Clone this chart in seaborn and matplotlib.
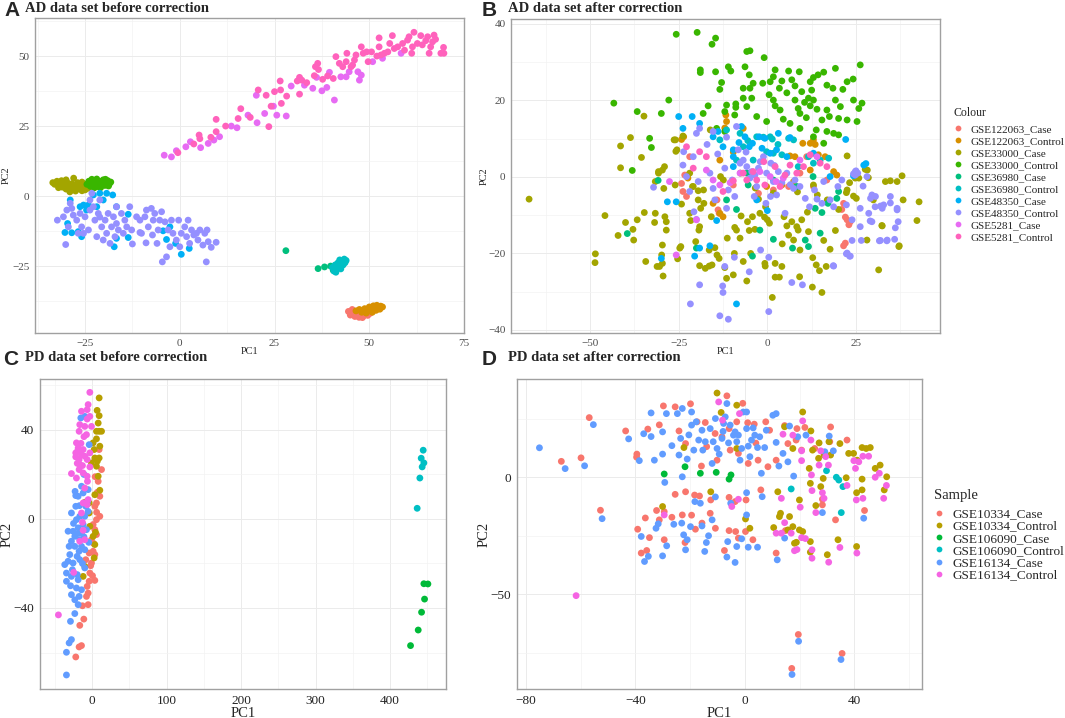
import pandas as pd
import numpy as np
import matplotlib
matplotlib.use("Agg")
import matplotlib.pyplot as plt
import seaborn as sns
from matplotlib.ticker import AutoMinorLocator

# ---------------- panel A : AD data set before correction ----------------
a_122063_case = [(44.5, -41.2), (45.0, -42.5), (45.6, -41.8), (46.2, -43.0), (46.8, -42.2),
                 (47.3, -43.3), (47.9, -42.0), (48.5, -42.8), (49.1, -41.5), (49.6, -42.6),
                 (50.2, -41.9), (45.5, -40.5), (47.0, -41.0), (48.2, -43.4)]
a_122063_control = [(46.5, -41.0), (47.4, -40.5), (48.0, -41.5), (48.8, -40.2), (49.5, -40.9),
                    (50.0, -39.6), (50.6, -40.7), (51.1, -39.2), (51.6, -40.2), (52.0, -39.0),
                    (52.5, -39.8), (53.0, -39.3), (53.5, -39.6), (50.8, -41.5), (49.2, -41.8),
                    (51.8, -40.8), (52.8, -40.4)]
a_33000_case = [(-33.5, 4.8), (-33.0, 4.2), (-32.4, 5.3), (-31.8, 4.0), (-31.2, 5.5), (-31.0, 3.2),
                (-30.5, 4.6), (-30.0, 2.5), (-29.8, 5.0), (-29.2, 3.8), (-28.8, 2.0), (-28.5, 4.4),
                (-28.0, 6.4), (-27.8, 3.0), (-27.5, 1.8), (-27.0, 4.8), (-26.6, 2.6), (-26.2, 3.9),
                (-25.8, 1.9), (-25.4, 3.2), (-25.0, 2.2), (-24.6, 4.3), (-24.2, 2.8), (-32.0, 3.0),
                (-30.0, 5.8), (-29.0, 1.5), (-27.0, 3.4), (-25.8, 5.0)]
a_33000_control = [(-24.5, 4.2), (-24.0, 5.3), (-23.6, 3.5), (-23.0, 4.8), (-22.6, 2.9), (-22.2, 5.6),
                   (-21.8, 4.1), (-21.4, 3.3), (-21.0, 5.2), (-20.6, 4.4), (-20.2, 5.8), (-19.8, 3.8),
                   (-19.4, 4.9), (-19.0, 5.5), (-18.6, 4.3), (-18.2, 5.0), (-23.2, 6.0), (-21.9, 6.1),
                   (-20.9, 3.0), (-19.6, 6.0), (-22.8, 3.9), (-20.0, 4.5), (-18.8, 3.6)]
a_36980_case = [(28.0, -19.5), (36.5, -25.9), (38.2, -25.3), (39.8, -25.0), (40.5, -26.5)]
a_36980_control = [(40.3, -25.5), (40.7, -26.8), (41.0, -24.6), (41.4, -25.8), (41.7, -23.9),
                   (42.0, -25.2), (42.2, -22.8), (42.5, -24.2), (42.8, -23.4), (43.1, -24.6),
                   (43.4, -22.5), (43.6, -23.8), (41.2, -27.2), (42.5, -26.0), (43.9, -23.0),
                   (40.9, -26.0)]
a_48350_case = [(-30.3, -13.0), (-29.6, -9.8), (-28.9, -1.4), (-25.9, -14.5), (-26.8, -12.7),
                (-24.6, -5.0), (-24.1, -3.2), (-22.8, 0.4), (-21.9, -3.8), (-21.1, 1.0),
                (-19.3, 1.0), (-17.7, 0.4), (-20.2, -1.4), (-16.7, -3.8), (-17.3, -18.1),
                (-13.6, -6.5), (-13.6, -14.8), (-16.7, -15.1), (-4.4, -12.4), (-3.5, -15.5),
                (-2.6, -11.0), (0.4, -20.8), (2.5, -18.7), (-1.1, -16.9), (-28.5, -13.1),
                (-25.4, -3.2), (-26.3, -3.8)]
a_48350_control = [(-32.3, -8.6), (-30.1, -17.3), (-30.7, -7.4), (-28.9, -2.6), (-28.5, -4.4),
                   (-28.1, -6.8), (-27.2, -8.6), (-26.3, -6.2), (-25.9, -11.0), (-25.4, -13.3),
                   (-25.0, -7.4), (-24.1, -12.1), (-23.7, -1.4), (-23.2, 1.0), (-22.8, -3.8),
                   (-22.4, -8.6), (-21.9, -14.5), (-21.5, -6.2), (-21.1, -1.4), (-20.6, -11.0),
                   (-20.2, -15.7), (-19.7, -8.6), (-19.3, -13.3), (-18.9, -6.2), (-18.4, -16.9),
                   (-18.0, -11.0), (-17.5, -7.4), (-17.1, -14.5), (-16.7, -9.8), (-16.2, -12.1),
                   (-15.4, -6.2), (-14.9, -13.3), (-14.5, -8.6), (-14.0, -11.0), (-13.2, -3.8),
                   (-12.7, -12.1), (-12.5, -17.1), (-11.4, -7.4), (-10.5, -8.6), (-10.1, -13.3),
                   (-9.2, -7.4), (-8.9, -16.7), (-8.3, -11.0), (-7.5, -4.4), (-7.2, -13.9),
                   (-6.6, -6.2), (-6.0, -16.9), (-5.7, -12.1), (-5.3, -8.6), (-4.8, -5.6),
                   (-4.6, -23.5), (-3.9, -9.2), (-3.5, -21.7), (-2.6, -18.1), (-2.2, -8.6),
                   (-1.8, -13.3), (-0.9, -15.7), (-0.3, -8.6), (0.0, -18.1), (0.4, -13.3),
                   (1.3, -11.0), (1.8, -14.5), (2.2, -8.6), (2.6, -16.9), (3.1, -12.1),
                   (3.7, -13.9), (4.4, -13.3), (4.8, -15.7), (5.3, -12.1), (6.1, -17.5),
                   (6.6, -13.3), (7.0, -23.5), (7.2, -12.1), (7.5, -16.3), (8.3, -18.3),
                   (9.6, -16.5), (-23.7, -5.0), (-21.1, -7.5), (-16.7, -3.8), (-10.5, -13.0),
                   (-8.8, -5.0), (-3.1, -12.1), (-7.0, -8.6), (-29.8, -5.0), (-29.4, -11.0),
                   (-26.8, -13.3)]
a_5281_case = [(-4.1, 14.6), (-2.2, 14.0), (-0.9, 16.2), (1.6, 17.6), (2.8, 19.4), (5.5, 17.3),
               (7.5, 18.8), (9.0, 20.0), (10.5, 21.2), (13.6, 25.0), (15.1, 24.4), (18.0, 28.9),
               (20.4, 26.2), (20.2, 36.0), (22.4, 29.5), (24.7, 32.1), (25.6, 28.9), (28.1, 28.6),
               (29.4, 39.3), (32.9, 39.6), (35.1, 38.5), (36.1, 42.4), (37.5, 37.6), (38.8, 38.8),
               (39.5, 44.2), (40.8, 34.3), (42.5, 42.6), (43.9, 42.6), (44.7, 44.4), (47.0, 44.4),
               (47.4, 41.4), (47.9, 43.2), (50.9, 48.0), (53.5, 49.2), (58.4, 51.0)]
a_5281_control = [(-0.5, 15.5), (3.7, 18.6), (5.1, 21.8), (5.3, 20.5), (8.2, 21.0), (9.6, 23.0),
                  (9.6, 27.4), (12.1, 25.0), (15.4, 27.7), (16.1, 31.2), (18.6, 28.1), (20.7, 37.9),
                  (22.8, 36.0), (23.5, 24.8), (24.1, 32.1), (25.0, 37.3), (26.6, 37.9), (26.5, 41.1),
                  (26.8, 33.1), (28.2, 35.7), (31.0, 41.1), (31.6, 42.4), (32.2, 41.4), (31.6, 36.4),
                  (35.8, 46.2), (36.4, 47.4), (36.6, 45.2), (37.7, 41.7), (39.0, 42.9), (41.2, 49.8),
                  (42.1, 47.4), (43.0, 46.2), (43.9, 48.0), (44.1, 51.0), (45.2, 46.2), (45.6, 46.8),
                  (46.1, 48.6), (46.5, 50.4), (47.9, 53.3), (48.4, 51.0), (49.3, 51.5), (49.7, 48.0),
                  (50.6, 51.5), (52.0, 50.0), (52.6, 56.5), (52.6, 53.3), (53.1, 50.4), (54.0, 51.0),
                  (54.9, 51.5), (55.4, 54.5), (56.1, 57.3), (56.6, 52.7), (57.5, 53.3), (58.8, 54.5),
                  (59.3, 52.1), (60.1, 55.7), (60.5, 56.9), (61.2, 51.0), (61.4, 53.3), (61.8, 58.5),
                  (62.7, 54.5), (63.6, 57.3), (64.0, 54.0), (64.9, 55.5), (65.4, 56.9), (65.8, 51.0),
                  (66.2, 53.3), (67.1, 57.5), (66.7, 55.1), (67.5, 56.0), (68.9, 51.0), (69.6, 53.1),
                  (69.7, 51.0), (40.5, 42.0), (33.5, 40.5), (35.5, 43.0)]

# ---------------- panel B : AD data set after correction ----------------
b_122063_case = [(-24.2, -1.7), (-23.8, -3.8), (-22.8, -5.1), (-23.3, 0.5), (-21.9, 5.3), (-14.2, -6.0),
                 (-13.9, -8.6), (-13.6, -9.5), (21.0, -8.5), (21.5, -6.9), (22.5, -11.2), (23.4, -11.7),
                 (22.0, -17.3), (21.5, -18.0), (-4.9, 1.0), (1.7, -3.4), (6.0, -2.5), (9.2, 1.0),
                 (13.0, -2.5), (16.8, -0.8), (-2.5, -4.3), (-9.6, -2.1), (11.1, 5.3), (22.0, -10.5),
                 (23.0, -12.5)]
b_122063_control = [(-23.6, 10.5), (-24.2, 9.8), (-11.7, 16.2), (-11.5, 14.5), (-12.0, 12.8),
                    (-6.8, 12.7), (-13.4, 4.4), (-9.6, 6.5), (10.0, 8.8), (12.1, 8.8), (13.5, 8.5),
                    (14.4, 5.8), (16.3, 5.3), (7.8, 5.3), (6.4, 5.5), (18.7, 1.4), (19.6, 0.5),
                    (12.1, 1.8), (4.1, -2.1), (-0.2, -2.5), (7.4, -1.2), (-15.3, -6.9), (-13.4, -9.5),
                    (-12.5, -10.4), (-22.4, -0.3), (13.0, 9.7)]
b_33000_case = [(-67.2, -5.8), (-48.5, -20.1), (-48.6, -22.4), (-45.8, -10.1), (-42.1, -15.3),
                (-41.4, 8.1), (-41.4, 2.4), (-40.0, -11.9), (-38.6, 10.3), (-37.9, -13.7),
                (-37.7, -16.5), (-36.7, -11.2), (-35.5, 5.1), (-34.7, -9.3), (-34.3, -22.1),
                (-34.8, 15.9), (-31.6, -9.5), (-31.8, -11.9), (-31.1, -23.4), (-30.7, 1.0),
                (-30.4, -23.4), (-29.6, 1.8), (-29.6, -17.8), (-29.6, -22.6), (-29.4, -25.9),
                (-29.2, -3.0), (-29.0, 2.7), (-28.9, -10.4), (-28.5, -11.7), (-28.5, -13.9),
                (-29.8, -20.4), (-26.3, 9.7), (-26.0, -2.1), (-25.8, 6.7), (-25.3, -21.4),
                (-24.7, -18.6), (-24.2, -7.1), (-23.8, 10.7), (-24.4, -18.2), (-21.9, 1.0),
                (-21.9, -9.5), (-21.6, -11.4), (-21.1, -2.5), (-20.2, -16.9), (-19.5, -3.6),
                (-19.5, -6.0), (-19.3, -13.9), (-19.1, -13.0), (-19.1, -23.2), (-18.8, -8.2),
                (-17.9, -6.9), (-17.5, -23.9), (-16.4, -19.1), (-16.4, -23.3), (-15.8, -10.4),
                (-15.6, -23.0), (-14.8, -18.5), (-14.2, -20.4), (-13.6, -21.3), (-12.0, -23.7),
                (-11.5, -26.5), (-11.3, -16.0), (-9.6, -25.6), (-9.3, -20.0), (-9.2, -13.2),
                (-8.7, -13.9), (-7.7, -16.0), (-7.4, -10.2), (-6.8, -22.1), (-5.8, -27.2),
                (-5.6, -11.7), (-5.1, -14.0), (-4.7, -20.0), (-4.2, -10.4), (-3.5, -13.7),
                (-2.5, -5.8), (-2.1, -9.5), (-0.8, -10.5), (-0.7, -22.6), (-0.6, -23.3),
                (-0.5, -7.8), (0.0, -11.2), (0.6, -12.1), (1.4, -31.5), (2.2, -22.6),
                (2.2, -26.2), (3.4, -26.2), (4.1, -23.4), (4.2, -17.5), (4.7, -10.4),
                (5.5, -12.8), (6.0, -15.2), (6.9, -11.7), (7.4, -16.5), (8.3, -13.0),
                (8.7, -13.9), (9.1, -26.1), (9.2, -19.1), (9.7, -11.2), (11.3, -9.2),
                (11.6, -14.3), (12.7, -28.8), (12.8, -21.1), (13.8, -23.0), (14.7, -24.5),
                (15.4, -30.2), (15.9, -16.6), (16.6, -23.4), (17.7, -18.9), (19.2, -14.0),
                (20.1, -8.5), (22.3, -4.1), (22.5, 5.5), (23.2, -1.5), (24.3, -5.0),
                (25.1, -5.6), (25.8, -0.3), (27.6, 2.0), (28.1, -16.5), (31.4, -24.3),
                (32.4, -12.8), (33.3, -1.2), (36.6, -1.2), (37.1, -18.2), (42.8, -6.5),
                (38.0, 0.3), (34.7, -1.0), (38.3, -6.0), (32.3, -12.7), (37.2, -18.0),
                (28.5, -0.2), (42.2, -11.4), (-25.5, 7.1), (-25.9, 9.7), (-30.7, 1.4),
                (-31.6, -1.2), (-20.9, -2.5), (-18.0, -3.4), (-12.4, -0.8), (-7.6, 1.0),
                (-3.4, -2.9), (1.7, -4.2), (8.5, -3.9), (13.0, -2.1), (14.1, -4.7),
                (16.9, -6.0), (22.5, -3.4), (24.8, -0.3), (28.2, 1.8), (29.9, -6.0),
                (-16.1, 12.3), (-13.2, 0.1)]
b_33000_control = [(-25.7, 37.3), (-19.8, 37.8), (-15.6, 34.7), (-14.6, 36.3), (-5.8, 32.8), (-4.9, 33.0),
                   (-0.9, 31.2), (26.2, 29.3), (-18.9, 28.0), (-18.9, 27.3), (-14.6, 27.5), (-11.0, 28.8),
                   (-10.3, 27.7), (-6.3, 28.8), (-5.1, 26.7), (-4.0, 24.5), (1.7, 26.2), (2.2, 28.0),
                   (0.8, 24.9), (4.1, 25.1), (6.0, 27.7), (6.9, 25.4), (9.0, 27.5), (12.1, 24.9),
                   (13.0, 26.0), (14.3, 26.7), (15.9, 27.4), (19.2, 28.4), (22.5, 24.9), (24.2, 25.6),
                   (-13.4, 22.9), (-12.9, 24.7), (-6.8, 23.2), (-4.9, 23.2), (-1.3, 24.5), (3.4, 23.2),
                   (7.8, 23.8), (9.7, 22.3), (12.5, 22.7), (16.8, 24.0), (18.5, 23.2), (21.3, 22.9),
                   (-43.3, 19.3), (-36.7, 17.1), (-29.9, 16.6), (-27.8, 20.1), (-33.2, 10.1),
                   (-32.7, 7.7), (-38.1, 1.7), (-18.1, 16.6), (-16.7, 18.6), (-11.5, 18.8),
                   (-8.9, 19.1), (-8.9, 18.2), (-6.8, 20.6), (-4.4, 20.6), (-5.8, 18.4), (-9.2, 16.2),
                   (-12.0, 17.1), (-14.3, 12.7), (-12.0, 11.9), (1.7, 20.1), (2.2, 18.6), (3.6, 17.5),
                   (4.5, 15.1), (7.8, 20.1), (8.7, 17.9), (9.2, 16.6), (11.6, 20.6), (12.1, 18.6),
                   (13.0, 20.1), (14.0, 17.7), (15.4, 14.9), (16.8, 17.5), (19.2, 20.1), (20.6, 18.4),
                   (20.1, 15.3), (22.5, 14.9), (25.3, 14.5), (24.3, 20.1), (26.7, 19.3), (25.8, 17.9),
                   (6.4, 14.0), (9.2, 12.7), (13.8, 12.3), (16.8, 11.9), (18.7, 11.4), (20.1, 11.0),
                   (15.9, 8.8), (13.0, 10.5), (-0.2, 14.5), (-3.0, 15.8), (10.5, 19.5), (11.0, 15.5),
                   (17.5, 15.8), (5.5, 22.0), (0.5, 21.5)]
b_36980_case = [(-30.8, -0.9), (-39.5, -14.8), (-20.0, -18.6), (-11.5, -6.0), (-8.7, -8.5), (-4.2, -20.7),
                (-2.1, -13.9), (1.7, -16.3), (7.1, -18.6), (10.7, -16.5), (11.6, -18.2), (13.5, -8.2),
                (14.9, -14.7), (15.4, -9.3), (17.1, -6.9), (20.1, -3.8), (19.6, -5.6), (8.3, -2.5),
                (1.7, -0.8), (-5.4, -2.1), (-5.8, 1.0), (12.9, 0.1)]
b_36980_control = [(-3.0, 10.5), (-1.1, 10.4), (0.8, 10.5), (1.4, 9.9), (1.7, 6.2), (6.0, 10.1),
                   (7.4, 9.7), (8.7, 2.7), (14.9, 4.4), (13.0, 3.6), (-7.7, 11.4), (-6.8, 7.9),
                   (-8.7, 4.4), (-4.0, 4.4), (4.1, 5.8), (11.6, 5.3), (17.3, 4.9), (-11.5, 12.3),
                   (-13.4, 9.7), (-0.2, 6.6), (-5.5, 9.5), (3.0, 8.5)]
b_48350_case = [(-25.0, 15.8), (-21.2, 15.8), (-23.8, 12.7), (-19.1, 14.0), (-15.3, 10.5), (-13.9, 11.9),
                (-12.5, 7.9), (-9.6, 7.1), (-9.6, 5.3), (-7.3, 13.2), (-6.3, 10.5), (-5.1, 7.9),
                (-4.2, 8.8), (-2.3, 10.5), (-0.7, 10.1), (2.6, 7.1), (3.1, 11.4), (6.4, 10.3),
                (13.0, 6.2), (17.7, 0.1), (22.1, 9.8), (24.3, 0.3), (27.2, 3.1), (27.8, 3.5),
                (-28.2, -6.5), (-25.7, -6.5), (-19.1, -18.6), (-20.5, -20.7), (-16.2, -18.0),
                (-14.3, -11.4), (-8.7, -33.2), (-29.9, -21.3), (0.0, -8.8), (-3.0, -6.0), (0.8, 6.2),
                (5.5, 5.3), (-9.6, 2.7), (-8.0, 9.0), (-1.5, 7.5)]
b_48350_control = [(-32.1, -2.7), (-19.1, -28.2), (-21.7, -33.2), (-13.4, -36.3), (-11.0, -37.2),
                   (-12.6, -28.5), (-12.5, -30.2), (-12.0, -23.4), (-9.3, -21.0), (-5.1, -24.8),
                   (-1.9, -19.1), (0.4, -21.0), (0.4, -35.2), (6.9, -27.6), (9.9, -28.2), (18.7, -23.3),
                   (22.3, -20.1), (23.2, -20.7), (23.9, -16.6), (26.5, -16.6), (29.5, -11.7),
                   (31.9, -16.6), (33.8, -16.5), (35.9, -16.3), (36.6, -8.2), (34.7, -5.1), (30.5, -5.1),
                   (29.1, -5.6), (28.6, -9.5), (32.4, -8.2), (32.8, -7.3), (26.2, -8.2), (23.9, -11.2),
                   (24.3, 0.8), (22.3, -7.3), (18.7, -7.8), (17.7, -6.0), (15.4, -6.9), (14.0, -5.8),
                   (11.9, -7.8), (10.7, -5.6), (9.2, -2.5), (7.8, -0.8), (5.5, 1.0), (4.1, -1.5),
                   (2.6, -4.7), (3.1, 1.4), (1.0, 3.6), (-1.1, 5.3), (-2.5, 2.3), (-3.5, 0.5),
                   (-4.9, -0.3), (-5.8, 2.7), (-6.8, 4.4), (-8.2, 7.1), (-8.7, 13.2), (-11.5, 10.4),
                   (-15.3, 11.9), (-20.0, 11.4), (-19.1, 12.7), (-23.6, 6.6), (-20.9, 5.3), (-23.8, 3.1),
                   (-22.8, 0.1), (-21.9, -3.8), (-19.5, -1.2), (-16.2, 1.0), (-15.3, -3.0), (-12.0, 2.3),
                   (-11.0, -3.4), (-9.9, -0.8), (-9.2, -5.1), (-11.5, -8.2), (-14.8, -6.0), (-20.7, -9.1),
                   (-20.0, -11.1), (-3.7, -5.1), (-0.4, -6.9), (0.9, -5.1), (5.0, -9.5), (7.4, -3.0),
                   (13.3, -3.4), (15.9, -1.2), (19.9, -2.5), (21.0, -0.8), (24.8, 1.4), (25.5, 1.0),
                   (28.1, 0.1), (-7.7, 3.6), (-4.4, 1.4), (-0.2, 1.0), (1.7, -1.2), (-3.0, -2.5),
                   (25.0, 1.6), (24.8, 0.5), (27.0, -2.4), (29.5, -4.7), (31.9, -7.6), (30.4, -7.8),
                   (34.7, -6.8), (36.6, -8.6), (36.9, -11.7), (36.1, -13.3), (33.7, -16.7), (31.6, -16.7),
                   (26.2, -13.0), (29.0, -11.5), (22.5, -19.9), (23.4, -20.7), (18.6, -23.2), (-6.0, 6.5),
                   (-2.0, 4.0), (2.0, 3.0), (6.5, -2.0), (-14.0, 6.0), (-17.0, 8.5)]
b_5281_case = [(-27.6, -1.2), (-25.7, -20.4), (-20.0, -11.2), (-15.3, -0.8), (-13.4, -2.1), (-7.7, 1.0),
               (-2.1, 1.4), (0.8, 0.1), (4.5, -0.3), (9.2, 4.4), (14.0, 5.3), (-17.2, 1.8),
               (-10.5, -1.5), (2.5, -1.2)]
b_5281_control = [(-22.8, 7.9), (-19.1, 6.6), (-17.2, 5.3), (-20.9, 2.3), (-0.7, -2.1), (-4.0, 1.4),
                  (-3.0, -0.8), (3.6, -2.5), (6.4, 3.1), (10.2, 2.7), (12.1, 5.8), (14.9, 3.6),
                  (16.8, 2.7), (2.2, 2.7), (-5.8, -0.8), (-6.8, 1.0), (8.3, 1.0), (-12.5, -3.8),
                  (-9.6, -1.0), (-1.0, 4.0), (5.0, 0.5)]

# ---------------- panel C : PD data set before correction ----------------
c_10334_case = [(9.4, 31.2), (12.6, 22.2), (8.1, 16.9), (5.8, 7.2), (3.6, 5.7), (10.3, 1.2), (5.8, -0.3),
                (1.3, -2.5), (3.6, -4.8), (5.8, -7.0), (-0.9, -9.3), (1.3, -14.5), (3.6, -16.0),
                (-0.9, -19.8), (-3.1, -24.3), (3.6, -27.6), (-4.0, -28.0), (-6.7, -30.3), (-5.4, -33.3),
                (-7.6, -34.8), (-5.4, -38.5), (-13.0, -39.0), (-11.2, -45.0), (-16.6, -47.8),
                (-14.3, -56.9), (-17.5, -57.5), (-22.0, -62.0), (10.3, 10.2), (-4.0, -15.3),
                (-8.5, -18.3), (6.0, 3.0), (2.0, -11.0), (7.0, 12.0), (4.0, 19.0), (-2.0, -21.0),
                (0.5, -25.5)]
c_10334_control = [(9.4, 54.4), (6.7, 48.8), (9.4, 46.4), (8.1, 43.1), (5.8, 39.4), (9.4, 39.4),
                   (12.6, 39.4), (5.8, 36.0), (10.3, 32.7), (2.7, 31.2), (3.6, 27.4), (9.4, 27.4),
                   (5.8, 23.7), (8.1, 19.2), (10.3, 12.9), (3.6, 10.9), (-4.0, 7.2), (-9.9, 7.5),
                   (-4.0, 2.7), (-3.1, -3.3), (1.3, -7.8), (3.6, -11.5), (2.7, -17.5), (-9.9, -21.3),
                   (-12.1, -25.8), (-0.9, 25.2), (1.3, 34.2), (7.0, 26.0), (4.5, -6.0)]
c_106090_case = [(445.3, -29.1), (450.7, -29.2), (446.2, -36.0), (442.2, -41.9), (437.7, -49.9),
                 (427.4, -56.9)]
c_106090_control = [(444.4, 30.9), (441.7, 27.3), (445.3, 25.2), (443.0, 23.4), (439.9, 18.4),
                    (436.3, 4.8)]
c_16134_case = [(-15.2, 45.4), (-9.9, 46.1), (-4.0, 33.4), (-22.9, 12.4), (-18.8, 10.2), (-12.1, 11.7),
                (-5.4, 13.2), (-27.8, 2.7), (-22.0, 5.7), (-16.6, 1.2), (-9.9, 1.2), (-5.4, 3.4),
                (-32.3, -5.5), (-25.6, -5.5), (-18.8, -4.0), (-14.3, -6.3), (-7.6, -4.8), (-27.8, -10.0),
                (-23.3, -12.3), (-17.5, -14.5), (-9.9, -13.8), (-30.0, -16.0), (-36.8, -20.5),
                (-32.3, -19.0), (-25.6, -19.8), (-16.6, -18.3), (-34.5, -24.3), (-27.8, -25.8),
                (-18.8, -27.3), (-9.9, -22.0), (-34.5, -28.0), (-21.1, -31.0), (-27.8, -34.0),
                (-23.3, -36.3), (-17.5, -34.8), (-18.8, -38.5), (-23.3, -42.5), (-29.1, -46.0),
                (-27.8, -54.2), (-30.9, -55.7), (-34.5, -59.9), (-34.5, -70.1), (-22.0, 10.5),
                (-12.1, -2.5), (-16.6, -9.3), (-20.2, -16.8), (-26.5, -22.8), (-14.3, -31.8),
                (-8.5, 5.7), (-14.3, 14.7), (-21.1, -0.3), (-23.3, -7.8), (-30.9, -12.3),
                (-14.3, -12.3), (-11.0, -8.0), (-19.0, -6.5), (-25.0, -2.0), (-20.0, -25.0),
                (-13.0, -20.0), (-6.0, 8.0), (-17.0, 6.0), (-29.0, -30.0), (-11.0, 20.0), (-4.5, -10.5)]
c_16134_control = [(-3.1, 56.9), (-5.4, 51.4), (-6.7, 49.1), (-14.3, 48.4), (-16.6, 42.4), (-17.5, 39.4),
                   (-9.9, 41.6), (-6.7, 44.9), (-3.1, 46.1), (-0.9, 41.6), (-7.6, 37.9), (-21.1, 34.2),
                   (-18.8, 31.9), (-22.0, 29.7), (-22.0, 27.9), (-17.5, 26.7), (-14.3, 28.9),
                   (-12.1, 31.2), (-9.9, 28.2), (-6.7, 26.7), (-3.1, 29.7), (-16.6, 24.4), (-17.5, 22.2),
                   (-27.8, 20.4), (-21.1, 18.4), (-12.1, 20.7), (-6.7, 19.2), (-6.3, 16.9), (-3.1, 23.4),
                   (-9.9, 13.9), (-5.4, 8.7), (-14.3, 2.7), (-13.0, -1.5), (-12.1, -5.1), (-9.9, -9.3),
                   (-16.6, -10.0), (-24.7, -24.0), (-45.3, -43.1), (-6.7, 6.4), (-12.1, 7.2),
                   (-19.5, 30.5), (-15.0, 34.0), (-11.0, 37.0), (-13.0, 24.0), (-20.0, 25.0)]

# ---------------- panel D : PD data set after correction ----------------
d_10334_case = [(-56.9, 25.4), (-59.9, 8.2), (-67.1, 6.7), (-52.8, -14.2), (-43.6, 19.7), (-39.5, 9.8),
                (-39.6, 8.5), (-35.5, 20.5), (-31.3, 22.3), (-29.8, 30.4), (-25.5, 30.0), (-24.1, 19.7),
                (-21.7, 14.3), (-19.9, 31.3), (-17.5, 23.6), (-14.5, 23.3), (-10.9, 18.6), (-6.6, 34.7),
                (-0.8, 31.5), (-3.0, 23.6), (1.0, 23.2), (3.4, 22.6), (7.6, 23.6), (9.0, 20.0),
                (14.5, 22.0), (19.0, 20.7), (21.9, 21.2), (31.3, 21.4), (37.3, 15.8), (31.0, 15.1),
                (-5.8, 20.7), (-8.4, 17.2), (-5.4, 11.5), (-10.2, 7.2), (-15.9, 4.7), (-2.4, 10.1),
                (1.2, 5.8), (4.8, 7.2), (8.4, 4.4), (11.4, 7.2), (15.7, 14.3), (18.7, 15.8),
                (20.7, 11.5), (25.5, 12.2), (28.3, -11.9), (28.3, -9.5), (43.7, -14.3), (-25.5, -7.4),
                (-21.7, -6.3), (-18.4, -7.7), (-16.6, -8.1), (-12.5, -9.8), (-5.8, -8.7), (-3.6, -10.5),
                (0.4, -9.8), (5.8, -5.5), (-32.3, -14.3), (-29.5, -14.8), (-36.4, -17.5), (-31.3, -18.3),
                (-26.7, -17.2), (-22.9, -16.2), (-19.5, -16.3), (-15.7, -19.7), (-12.7, -15.5),
                (-10.8, -21.9), (-5.8, -22.9), (-3.4, -23.3), (0.2, -23.3), (2.9, -26.8), (-39.2, -22.3),
                (-37.9, -32.5), (-35.9, -31.4), (-34.9, -25.9), (-29.5, -26.8), (-21.9, -28.0),
                (-18.1, -22.3), (-7.5, -31.4), (-2.4, -26.1), (11.4, -32.5), (14.8, -22.9),
                (19.5, -67.3), (17.1, -81.8), (35.5, -75.4), (33.1, -18.3), (-14.0, 13.0), (4.0, 14.5)]
d_10334_control = [(-10.2, 35.9), (-8.7, 27.6), (-3.0, 30.7), (-3.0, 12.2), (-22.3, 12.6), (21.1, 27.8),
                   (14.5, 21.5), (17.5, 12.2), (24.1, 19.7), (27.1, 14.6), (30.7, 15.1), (34.7, 14.3),
                   (24.7, 11.5), (26.9, 8.0), (28.9, 9.4), (31.3, 9.4), (37.9, 10.1), (39.7, 10.1),
                   (42.8, 12.6), (44.3, 12.2), (45.8, 12.6), (41.0, 7.2), (42.8, -0.9), (47.6, 3.7),
                   (49.4, 5.1), (51.8, 0.1), (50.9, -5.5), (37.0, -0.3), (28.6, -0.6), (27.7, -4.1),
                   (23.5, 3.7), (23.9, -2.7), (25.9, -12.2), (40.8, -6.7), (42.8, -5.5), (12.0, -6.3),
                   (19.9, -9.8), (12.6, -16.9), (13.0, -15.5), (16.3, -16.9), (10.5, -21.6),
                   (17.5, -21.2), (15.7, -22.6), (18.1, -28.3), (18.8, -27.9), (19.9, -22.6),
                   (21.1, -23.3), (23.9, -27.6), (23.9, -32.1), (30.1, -33.2), (34.0, -26.8),
                   (40.8, -29.7), (-30.1, -12.6), (-12.5, -6.3), (0.2, -17.9), (1.8, -21.9)]
d_106090_case = [(-29.5, 1.3), (-21.9, 4.4), (-16.3, 1.6), (-10.5, 2.0), (-5.1, 0.9), (-5.8, -0.9)]
d_106090_control = [(29.8, 2.7), (33.4, -0.1), (34.3, -1.3), (35.8, -4.1), (16.9, -5.1), (35.2, -15.2)]
d_16134_case = [(-75.1, 12.5), (-65.7, 3.6), (-58.6, 4.8), (-55.4, 22.4), (-52.2, -17.8), (-42.5, 16.3),
                (-38.6, 7.0), (-37.0, 18.5), (-34.3, 17.3), (-34.3, 27.4), (-33.1, 7.2), (-30.1, 19.3),
                (-30.1, 9.8), (-29.3, -2.3), (-28.7, 27.1), (-26.7, 13.4), (-24.7, 27.1), (-24.1, 9.4),
                (-23.5, 16.5), (-22.9, 29.3), (-22.9, 0.1), (-21.1, 7.7), (-19.5, 27.8), (-19.5, 22.2),
                (-18.7, 11.5), (-17.8, 23.6), (-16.9, 15.8), (-15.7, 20.0), (-15.4, 11.5), (-14.5, 15.1),
                (-12.7, 20.7), (-12.0, 5.8), (-11.6, 15.1), (-10.8, 25.0), (-10.2, 12.2), (-9.4, 9.8),
                (-8.4, 16.5), (-7.8, 22.9), (-7.2, 25.7), (-6.6, 31.4), (-6.0, 14.6), (-5.4, 22.2),
                (-4.2, 17.9), (-3.6, 19.3), (-3.0, 15.1), (-2.4, 17.9), (-1.8, 7.2), (-1.2, 12.2),
                (-0.6, 27.8), (0.6, 27.8), (0.6, 20.7), (1.2, 13.2), (1.8, 8.7), (2.4, 15.8),
                (3.6, 17.9), (4.6, 12.6), (5.4, 17.2), (6.0, 1.6), (7.2, 12.6), (7.8, 20.0),
                (10.2, 26.4), (11.4, 27.1), (11.4, 14.8), (12.4, 4.7), (13.9, 10.1), (15.7, 6.5),
                (16.3, 21.8), (17.8, 0.4), (19.3, 17.2), (22.3, 17.9), (29.2, 10.8), (32.3, 11.2),
                (30.8, 17.5), (28.3, -15.2), (43.4, -17.6), (-37.9, -25.4), (-36.7, -36.1),
                (-35.3, -33.9), (-32.5, -21.9), (-31.7, -20.0), (-30.1, -33.7), (-28.6, -29.4),
                (-26.0, -20.2), (-23.1, -19.7), (-22.4, -24.7), (-21.7, -31.1), (-21.1, -26.8),
                (-19.9, -21.2), (-18.3, -10.5), (-16.3, -11.2), (-15.7, -20.9), (-14.7, -31.8),
                (-14.1, -28.0), (-13.3, -25.1), (-12.0, -18.3), (-10.8, -8.5), (-6.3, -27.6),
                (-6.6, -34.2), (-5.2, -11.2), (-3.6, -36.5), (-3.0, -29.7), (-1.2, -26.4), (0.6, -6.7),
                (0.6, -16.2), (1.2, -30.0), (4.6, -30.0), (6.3, -8.4), (11.8, -35.4), (14.5, -26.1),
                (19.6, -70.2), (17.2, -84.4), (35.1, -78.0), (-20.5, 18.0), (-8.0, 19.5), (3.0, 21.0)]
d_16134_control = [(-61.7, -50.7), (-29.5, -16.2), (-9.6, 32.1), (-8.2, 24.3), (-2.0, 27.1), (-4.8, -12.6),
                   (-2.4, -9.5), (13.9, 18.3), (17.5, 17.9), (21.1, 24.0), (24.1, 15.8), (20.7, 11.2),
                   (20.7, 7.0), (27.7, 11.2), (29.5, 8.7), (27.1, 5.1), (30.5, 5.1), (24.3, 0.9),
                   (24.5, -5.8), (28.3, -6.7), (28.9, -9.1), (25.9, -15.2), (20.2, -12.9), (13.3, -9.1),
                   (37.3, -3.6), (40.7, -9.8), (43.1, -9.1), (40.4, 3.7), (41.6, 6.5), (43.1, 8.9),
                   (45.2, 8.9), (47.6, -0.1), (49.1, 1.6), (50.7, -9.1), (51.7, -3.6), (39.8, 7.0),
                   (11.4, -24.0), (13.3, -24.0), (16.9, -24.0), (18.1, -31.5), (20.7, -25.9),
                   (22.1, -26.3), (24.5, -31.1), (24.5, -34.7), (30.6, -36.4), (34.7, -30.1),
                   (40.9, -32.5), (14.5, -19.5), (19.0, -31.0)]

ad_labels = ["GSE122063_Case", "GSE122063_Control", "GSE33000_Case", "GSE33000_Control",
             "GSE36980_Case", "GSE36980_Control", "GSE48350_Case", "GSE48350_Control",
             "GSE5281_Case", "GSE5281_Control"]
ad_colors = ["#F8766D", "#D89000", "#A3A500", "#39B600", "#00BF7D",
             "#00BFC4", "#00B0F6", "#9590FF", "#E76BF3", "#FF62BC"]
pd_labels = ["GSE10334_Case", "GSE10334_Control", "GSE106090_Case", "GSE106090_Control",
             "GSE16134_Case", "GSE16134_Control"]
pd_colors = ["#F8766D", "#B79F00", "#00BA38", "#00BFC4", "#619CFF", "#F564E3"]


def make_frame(labels, groups):
    """Stack the per-group point lists into one long dataframe."""
    rows = []
    for name, pts in zip(labels, groups):
        for x, y in pts:
            rows.append((x, y, name))
    return pd.DataFrame(rows, columns=["PC1", "PC2", "Sample"])


df_a = make_frame(ad_labels, [a_122063_case, a_122063_control, a_33000_case, a_33000_control,
                              a_36980_case, a_36980_control, a_48350_case, a_48350_control,
                              a_5281_case, a_5281_control])
df_b = make_frame(ad_labels, [b_122063_case, b_122063_control, b_33000_case, b_33000_control,
                              b_36980_case, b_36980_control, b_48350_case, b_48350_control,
                              b_5281_case, b_5281_control])
df_c = make_frame(pd_labels, [c_10334_case, c_10334_control, c_106090_case, c_106090_control,
                              c_16134_case, c_16134_control])
df_d = make_frame(pd_labels, [d_10334_case, d_10334_control, d_106090_case, d_106090_control,
                              d_16134_case, d_16134_control])

sns.set_style("white")
plt.rcParams["font.family"] = ["Liberation Serif", "DejaVu Serif"]

W, H = 1065, 718
fig = plt.figure(figsize=(W / 100, H / 100), dpi=100)


def add_ax(left, top, right, bottom):
    """Axes from pixel edges of the reference."""
    return fig.add_axes([left / W, 1 - bottom / H, (right - left) / W, (bottom - top) / H])


def style(ax, xlim, ylim, xticks, yticks, tsize, lsize, xlab_y, ylab_x, tcolor):
    ax.set_xlim(*xlim)
    ax.set_ylim(*ylim)
    ax.set_xticks(xticks)
    ax.set_yticks(yticks)
    ax.xaxis.set_minor_locator(AutoMinorLocator(2))
    ax.yaxis.set_minor_locator(AutoMinorLocator(2))
    ax.grid(which="major", color="#EBEBEB", linewidth=0.7)
    ax.grid(which="minor", color="#F3F3F3", linewidth=0.5)
    ax.set_axisbelow(True)
    for sp in ax.spines.values():
        sp.set_color("#A0A0A0")
        sp.set_linewidth(1.0)
    ax.tick_params(which="major", length=2.5, width=0.6, color="#666666",
                   labelsize=tsize, labelcolor=tcolor, pad=1.5)
    ax.tick_params(which="minor", length=0)
    ax.set_xlabel("PC1", fontsize=lsize)
    ax.set_ylabel("PC2", fontsize=lsize)
    ax.xaxis.set_label_coords(0.5, xlab_y)
    ax.yaxis.set_label_coords(ylab_x, 0.5)


def panel(ax, df, labels, colors, show_legend):
    sns.scatterplot(data=df, x="PC1", y="PC2", hue="Sample", hue_order=labels,
                    palette=dict(zip(labels, colors)), s=24, linewidth=0,
                    legend=show_legend, ax=ax)


ax_a = add_ax(35, 18, 464, 333)
ax_b = add_ax(511, 19, 940, 333)
ax_c = add_ax(40, 379, 446, 689)
ax_d = add_ax(517, 379, 922, 689)

panel(ax_a, df_a, ad_labels, ad_colors, False)
panel(ax_b, df_b, ad_labels, ad_colors, True)
panel(ax_c, df_c, pd_labels, pd_colors, False)
panel(ax_d, df_d, pd_labels, pd_colors, True)

style(ax_a, (-38.2, 74.7), (-48.9, 63.6), [-25, 0, 25, 50, 75], [-25, 0, 25, 50],
      8, 7.5, -0.045, -0.056, "#4D4D4D")
style(ax_b, (-72.3, 48.7), (-40.8, 41.3), [-50, -25, 0, 25], [-40, -20, 0, 20, 40],
      8, 7.5, -0.045, -0.052, "#4D4D4D")
style(ax_c, (-70, 475), (-76.4, 62.9), [0, 100, 200, 300, 400], [-40, 0, 40],
      9.5, 10.5, -0.058, -0.066, "#222222")
style(ax_d, (-83.3, 64.7), (-90.6, 41.9), [-80, -40, 0, 40], [-50, 0],
      9.5, 10.5, -0.058, -0.066, "#222222")

# legends in the ggplot style, outside the right-hand panels; titles set apart
h, l = ax_b.get_legend_handles_labels()
ax_b.legend(h, l, loc="upper left", bbox_to_anchor=(954 / W, 1 - 124 / H),
            bbox_transform=fig.transFigure, frameon=False, fontsize=8,
            markerscale=0.85, handlelength=0.8, handletextpad=0.7, labelspacing=0.2,
            borderpad=0, borderaxespad=0)
fig.text(953 / W, 1 - 113 / H, "Colour", fontsize=8.5, ha="left", va="center")

h, l = ax_d.get_legend_handles_labels()
ax_d.legend(h, l, loc="upper left", bbox_to_anchor=(934.5 / W, 1 - 508 / H),
            bbox_transform=fig.transFigure, frameon=False, fontsize=9.5,
            markerscale=0.85, handlelength=0.7, handletextpad=0.7, labelspacing=0.0,
            borderpad=0, borderaxespad=0)
fig.text(934 / W, 1 - 495 / H, "Sample", fontsize=10.5, ha="left", va="center")

# panel letters and titles
for lx, ly, letter, tx, title in [(4, 1, "A", 25, "AD data set before correction"),
                                  (482, 1, "B", 508, "AD data set after correction"),
                                  (3, 350, "C", 25, "PD data set before correction"),
                                  (482, 350, "D", 508, "PD data set after correction")]:
    fig.text(lx / W, 1 - ly / H, letter, family="Liberation Sans", weight="bold",
             fontsize=15, va="top", ha="left")
    fig.text(tx / W, 1 - (ly + 1) / H, title, weight="bold", fontsize=10.5,
             va="top", ha="left")

fig.savefig("out.png", dpi=100)
